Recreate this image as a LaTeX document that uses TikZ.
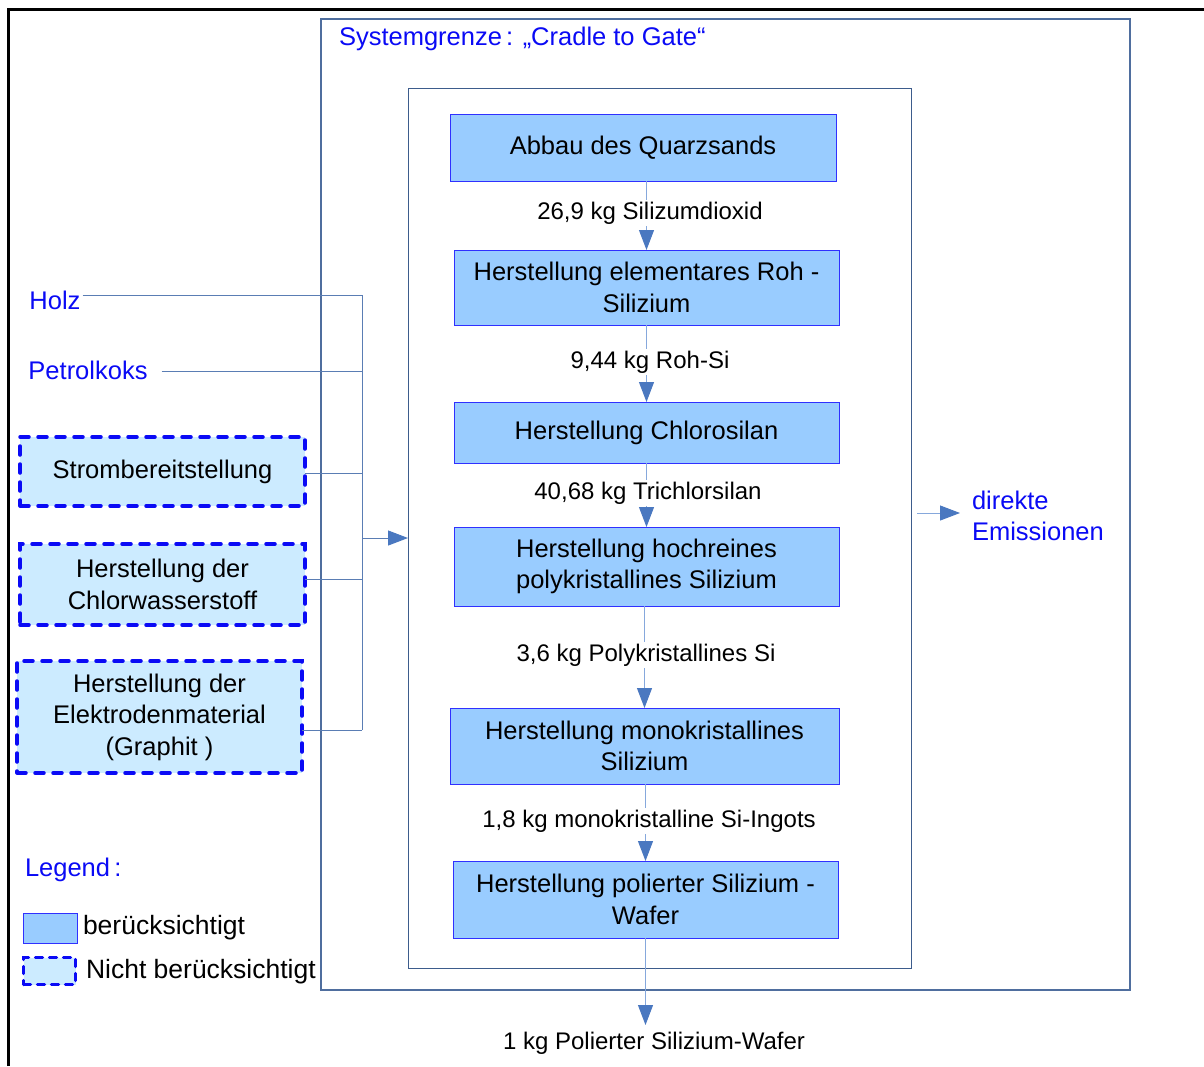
\documentclass[tikz,border=0pt]{standalone}
\usepackage{fontspec}
\setmainfont{Liberation Sans}
\usetikzlibrary{arrows.meta}

\definecolor{procfill}{HTML}{99CCFF}
\definecolor{procdraw}{HTML}{3030FF}
\definecolor{extfill}{HTML}{CCEBFF}
\definecolor{txtblue}{HTML}{0A0AF5}
\definecolor{framecol}{HTML}{4F6E9E}
\definecolor{innercol}{HTML}{3D5C8C}
\definecolor{arrowcol}{HTML}{4A78C0}
\definecolor{flowline}{HTML}{86A8DC}
\definecolor{busline}{HTML}{5A7DB4}

\begin{document}
\begin{tikzpicture}[x=1pt,y=-1pt,
  every node/.style={inner sep=0pt, outer sep=0pt},
  boxfont/.style={font=\fontsize{25.5}{31.5}\selectfont},
  legfont/.style={font=\fontsize{26.5}{31.5}\selectfont},
  qtyfont/.style={font=\fontsize{24}{29}\selectfont},
  proc/.style={boxfont, draw=procdraw, fill=procfill, line width=1pt, align=center},
  dashline/.style={draw=txtblue, line width=3.5pt, line cap=round,
                   dash pattern=on 9pt off 9pt},
  ext/.style={boxfont, dashline, fill=extfill, align=center},
  bluetext/.style={boxfont, text=txtblue, align=left},
  qty/.style={qtyfont, fill=white, inner sep=1.5pt},
  tip/.style={-{Triangle[length=20pt,width=15pt,color=arrowcol]}},
  flow/.style={tip, draw=flowline, line width=1pt},
  bus/.style={draw=busline, line width=1pt}
]
% canvas
\fill[white] (0,0) rectangle (1204,1066);
\useasboundingbox (0,0) rectangle (1204,1066);

% outer frame (top and left edge)
\draw[line width=3pt] (8.5,1066) -- (8.5,9.5) -- (1204,9.5);

% system boundary and inner process block
\node[draw=framecol, line width=1.5pt, minimum width=809, minimum height=971]
  (sys) at (725.5,504.5) {};
\node[bluetext, anchor=west] (systitle) at (339,39)
  {Systemgrenze\,: „Cradle to Gate“};
\node[draw=innercol, line width=1pt, minimum width=503, minimum height=880]
  (inner) at (659.5,528) {};

% process chain
\node[proc, minimum width=386, minimum height=67] (p1) at (643,147.5)
  {Abbau des Quarzsands};
\node[proc, minimum width=385, minimum height=75] (p2) at (646.5,287.5)
  {Herstellung elementares Roh -\\Silizium};
\node[proc, minimum width=385, minimum height=61] (p3) at (646.5,432.5)
  {Herstellung Chlorosilan};
\node[proc, minimum width=385, minimum height=79] (p4) at (646.5,566.5)
  {Herstellung hochreines\\polykristallines Silizium};
\node[proc, minimum width=389, minimum height=76] (p5) at (644.5,746)
  {Herstellung monokristallines\\Silizium};
\node[proc, minimum width=385, minimum height=77] (p6) at (645.5,899.5)
  {Herstellung polierter Silizium -\\Wafer};

\draw[flow] (p1.south -| p2) -- (p2.north);
\draw[flow] (p2.south) -- (p3.north);
\draw[flow] (p3.south) -- (p4.north);
\draw[flow] (p4.south -| p5) -- (p5.north);
\draw[flow] (p5.south -| p6) -- (p6.north);

\node[qty] (q1) at (650,213) {26,9 kg Silizumdioxid};
\node[qty] (q2) at (650,362) {9,44 kg Roh-Si};
\node[qty] (q3) at (648,493) {40,68 kg Trichlorsilan};
\node[qty] (q4) at (646,655) {3,6 kg Polykristallines Si};
\node[qty] (q5) at (649,821) {1,8 kg monokristalline Si-Ingots};

% product output
\node[qtyfont] (out) at (654,1043) {1 kg Polierter Silizium-Wafer};
\coordinate (outtip) at (645.5,1025);
\draw[flow] (p6.south) -- (outtip);

% inputs
\node[bluetext] (holz) at (55,300) {Holz};
\node[bluetext] (koks) at (88,370) {Petrolkoks};
\node[ext, minimum width=285, minimum height=69] (strom) at (162.5,471.5)
  {Strombereitstellung};
\node[ext, minimum width=285, minimum height=81] (hcl) at (162.5,584.5)
  {Herstellung der\\Chlorwasserstoff};
\node[ext, minimum width=285, minimum height=112] (graph) at (159.5,717)
  {Herstellung der\\Elektrodenmaterial\\(Graphit )};

\coordinate (bustop) at (362,295);
\coordinate (busbot) at (362,730);
\coordinate (busin) at (362,538);
\draw[bus] (bustop) -- (busbot);
\draw[bus] ([xshift=2]holz.east |- bustop) -- (bustop);
\draw[bus] ([xshift=14]koks.east |- 0,371) -- (bustop |- 0,371);
\draw[bus] (strom.east |- 0,473) -- (bustop |- 0,473);
\draw[bus] (hcl.east |- 0,579) -- (bustop |- 0,579);
\draw[bus] (graph.east |- busbot) -- (busbot);
\draw[bus, tip] (busin) -- (inner.west |- busin);

% emissions
\node[bluetext, anchor=west] (emis) at (972,516) {direkte\\Emissionen};
\draw[flow] ([xshift=6]inner.east |- 0,513) -- ([xshift=-12]emis.west |- 0,513);

% legend
\node[bluetext, anchor=west] (leg) at (25,870) {Legend\,:};
\node[draw=procdraw, fill=procfill, line width=1pt, minimum width=54, minimum height=30]
  (legA) at (50,928) {};
\node[legfont, anchor=west] (legAt) at (83,928) {berücksichtigt};
\node[dashline, fill=extfill, dash pattern=on 7pt off 7pt,
      minimum width=52, minimum height=27] (legB) at (49.5,971) {};
\node[legfont, anchor=west] (legBt) at (86,972) {Nicht berücksichtigt};
\end{tikzpicture}
\end{document}
